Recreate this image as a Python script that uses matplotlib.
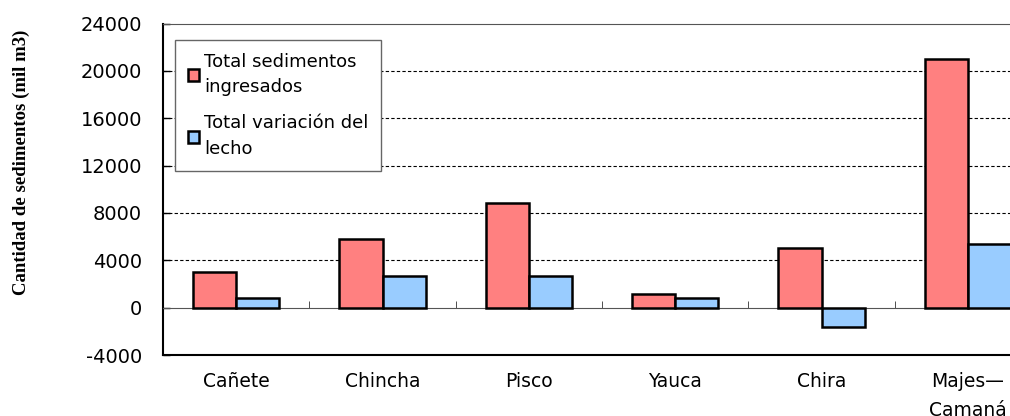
import matplotlib.pyplot as plt
import numpy as np

rios = ["Cañete", "Chincha", "Pisco", "Yauca", "Chira", "Majes—\nCamaná"]
sedimentos_ingresados = [3000, 5800, 8800, 1150, 5050, 21000]
variacion_lecho = [780, 2650, 2650, 780, -1650, 5400]
yticks = np.arange(-4000, 24001, 4000)


def main() -> None:
    fig = plt.figure(figsize=(10.1, 4.16), dpi=100)
    ax = fig.add_axes([0.1614, 0.1466, 0.8693, 0.7969])

    x = np.arange(len(rios)) + 0.5
    w = 0.294
    ax.bar(x - w, sedimentos_ingresados, w, align="edge", color="#FF8080",
           edgecolor="black", linewidth=1.8, zorder=3,
           label="Total sedimentos\ningresados")
    ax.bar(x, variacion_lecho, w, align="edge", color="#99CCFF",
           edgecolor="black", linewidth=1.8, zorder=3,
           label="Total variación del\nlecho")

    ax.set_xlim(0, len(rios))
    ax.set_ylim(-4000, 24000)
    ax.set_yticks(yticks)
    ax.set_yticklabels([str(v) for v in yticks], fontsize=14)
    ax.tick_params(axis="y", direction="in", length=5, width=1, pad=15)

    # eje x cruzando en cero, etiquetas debajo del borde inferior
    ax.spines["bottom"].set_position(("data", 0))
    ax.spines["bottom"].set_color("#555555")
    ax.set_xticks(x)
    ax.set_xticklabels(rios, fontsize=13.5, linespacing=1.7)
    ax.set_xticks(np.arange(1, len(rios)), minor=True)
    ax.tick_params(axis="x", which="major", length=0, pad=46)
    ax.tick_params(axis="x", which="minor", direction="in", length=5,
                   color="#333333")
    ax.axhline(-4000, color="black", lw=1.5, clip_on=False, zorder=4)
    ax.spines["top"].set_color("#555555")
    ax.spines["left"].set_linewidth(1.5)

    ax.grid(axis="y", color="black", linestyle=(0, (3, 2)), linewidth=0.8)
    for line in ax.get_ygridlines()[:2] + ax.get_ygridlines()[-1:]:
        line.set_visible(False)
    ax.set_axisbelow(True)

    ax.set_ylabel("Cantidad de sedimentos (mil m3)", family="Liberation Serif",
                  fontweight="bold", fontsize=13.5)
    ax.yaxis.set_label_coords(-0.152, 0.58)

    leg = ax.legend(loc="upper left", bbox_to_anchor=(0.0137, 0.95),
                    fontsize=13, fancybox=False, framealpha=1,
                    edgecolor="#666666", handlelength=0.6, handleheight=0.6,
                    handletextpad=0.3, labelspacing=1.0, borderpad=0.7,
                    borderaxespad=0)
    leg.get_frame().set_linewidth(1)
    for t in leg.get_texts():
        t.set_linespacing(1.55)

    fig.savefig("out.png")


if __name__ == '__main__':
    main()
